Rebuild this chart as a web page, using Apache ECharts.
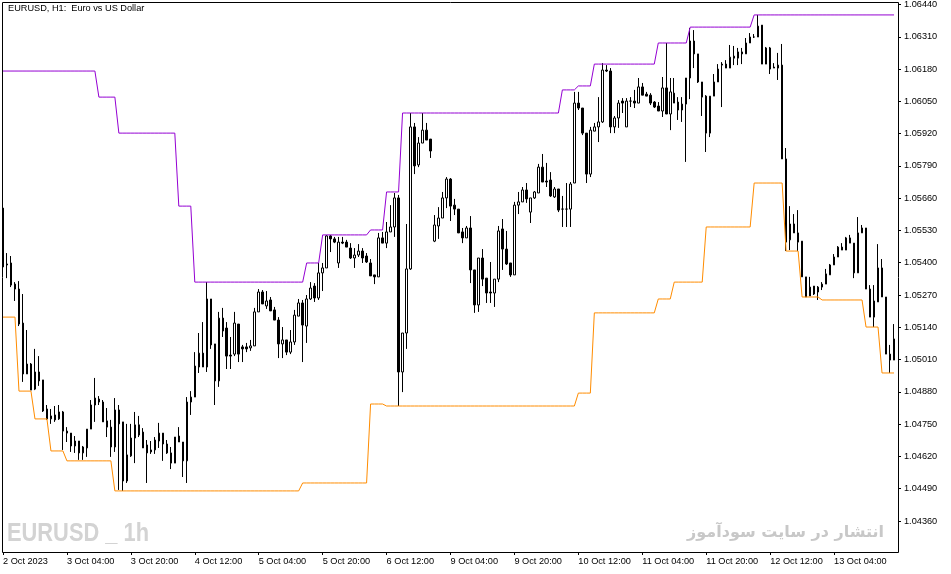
<!DOCTYPE html>
<html><head><meta charset="utf-8">
<script src="https://cdn.jsdelivr.net/npm/echarts@6/dist/echarts.min.js"></script>
<style>html,body{margin:0;padding:0;background:#fff}#c{width:951px;height:574px}</style>
</head><body><div id="c"></div>
<script>
// ---- data ----
const tradingDays = ['2 Oct','3 Oct','4 Oct','5 Oct','6 Oct','9 Oct','10 Oct','11 Oct','12 Oct','13 Oct'];
const firstHour = 12, lastHour = 19;
const xTickLabels = ['2 Oct 2023','3 Oct 04:00','3 Oct 20:00','4 Oct 12:00','5 Oct 04:00','5 Oct 20:00','6 Oct 12:00','9 Oct 04:00','9 Oct 20:00','10 Oct 12:00','11 Oct 04:00','11 Oct 20:00','12 Oct 12:00','13 Oct 04:00'];
const yTickValues = [1.04360,1.04490,1.04620,1.04750,1.04880,1.05010,1.05140,1.05270,1.05400,1.05530,1.05660,1.05790,1.05920,1.06050,1.06180,1.06310,1.06440];

const opens = [
1.05620,1.05395,1.05399,1.05314,1.05294,1.05157,1.04952,1.04992,1.04891,1.04960,
1.04928,1.04811,1.04771,1.04787,1.04771,1.04799,1.04722,1.04714,1.04662,1.04682,
1.04634,1.04654,1.04730,1.04827,1.04851,1.04839,1.04763,1.04738,1.04658,1.04807,
1.04759,1.04521,1.04622,1.04694,1.04747,1.04718,1.04666,1.04646,1.04646,1.04682,
1.04714,1.04670,1.04634,1.04593,1.04702,1.04678,1.04602,1.04839,1.04859,1.04980,
1.05036,1.04980,1.05254,1.05073,1.04924,1.05177,1.05137,1.05028,1.05032,1.05153,
1.05061,1.05061,1.05057,1.05065,1.05202,1.05282,1.05226,1.05250,1.05210,1.05169,
1.05073,1.05089,1.05040,1.05081,1.05185,1.05238,1.05145,1.05254,1.05306,1.05258,
1.05359,1.05379,1.05508,1.05496,1.05399,1.05483,1.05483,1.05459,1.05419,1.05431,
1.05447,1.05427,1.05399,1.05351,1.05343,1.05500,1.05479,1.05524,1.05544,1.05661,
1.04960,1.05117,1.05375,1.05947,1.05794,1.05882,1.05934,1.05898,1.05487,1.05548,
1.05580,1.05661,1.05737,1.05632,1.05616,1.05524,1.05500,1.05540,1.05371,1.05230,
1.05419,1.05338,1.05282,1.05278,1.05334,1.05536,1.05455,1.05399,1.05351,1.05632,
1.05645,1.05693,1.05604,1.05661,1.05681,1.05785,1.05729,1.05733,1.05665,1.05697,
1.05616,1.05616,1.05616,1.05721,1.06043,1.06023,1.05922,1.05757,1.05930,1.05947,
1.05967,1.06176,1.06172,1.05947,1.05983,1.06051,1.05947,1.06051,1.06051,1.06043,
1.06108,1.06079,1.06075,1.06047,1.06031,1.06011,1.06104,1.05999,1.06083,1.06047,
1.06015,1.06039,1.06144,1.06293,1.06241,1.06128,1.06071,1.05922,1.06071,1.06128,
1.06200,1.06200,1.06184,1.06232,1.06224,1.06249,1.06241,1.06285,1.06309,1.06309,
1.06357,1.06200,1.06265,1.06188,1.06184,1.06196,1.05818,1.05492,1.05556,1.05520,
1.05487,1.05343,1.05266,1.05306,1.05282,1.05302,1.05314,1.05351,1.05391,1.05423,
1.05463,1.05451,1.05500,1.05479,1.05359,1.05520,1.05540,1.05294,1.05181,1.05242,
1.05379,1.05262,1.05032,1.05008];

const highs = [
1.05624,1.05439,1.05427,1.05322,1.05326,1.05274,1.05129,1.04996,1.05053,1.05024,
1.04928,1.04827,1.04811,1.04823,1.04827,1.04803,1.04738,1.04714,1.04702,1.04682,
1.04662,1.04730,1.04847,1.04936,1.04863,1.04847,1.04815,1.04767,1.04855,1.04827,
1.04759,1.04751,1.04751,1.04799,1.04783,1.04734,1.04686,1.04682,1.04698,1.04755,
1.04714,1.04686,1.04658,1.04698,1.04738,1.04678,1.04859,1.04883,1.05040,1.05117,
1.05161,1.05322,1.05254,1.05073,1.05202,1.05218,1.05161,1.05101,1.05202,1.05153,
1.05069,1.05077,1.05089,1.05218,1.05294,1.05290,1.05286,1.05262,1.05222,1.05181,
1.05141,1.05089,1.05129,1.05210,1.05254,1.05250,1.05270,1.05322,1.05318,1.05399,
1.05399,1.05512,1.05512,1.05504,1.05504,1.05504,1.05492,1.05479,1.05459,1.05475,
1.05459,1.05439,1.05415,1.05351,1.05520,1.05524,1.05564,1.05632,1.05681,1.05673,
1.05117,1.05556,1.06003,1.05963,1.05906,1.06003,1.05963,1.05898,1.05592,1.05624,
1.05685,1.05745,1.05741,1.05657,1.05616,1.05540,1.05548,1.05588,1.05371,1.05419,
1.05455,1.05338,1.05403,1.05334,1.05548,1.05576,1.05528,1.05399,1.05645,1.05685,
1.05705,1.05721,1.05661,1.05689,1.05798,1.05838,1.05802,1.05765,1.05705,1.05697,
1.05669,1.05721,1.05725,1.06088,1.06088,1.06023,1.05922,1.05947,1.05963,1.06067,
1.06204,1.06196,1.06184,1.05991,1.06055,1.06063,1.06063,1.06067,1.06096,1.06144,
1.06124,1.06088,1.06083,1.06051,1.06047,1.06148,1.06285,1.06144,1.06144,1.06067,
1.06067,1.06144,1.06345,1.06337,1.06241,1.06128,1.06075,1.06071,1.06160,1.06200,
1.06208,1.06216,1.06277,1.06273,1.06265,1.06265,1.06305,1.06325,1.06321,1.06398,
1.06357,1.06269,1.06269,1.06204,1.06245,1.06281,1.05862,1.05628,1.05596,1.05612,
1.05487,1.05343,1.05343,1.05306,1.05306,1.05322,1.05375,1.05395,1.05435,1.05467,
1.05479,1.05504,1.05512,1.05479,1.05584,1.05552,1.05540,1.05310,1.05310,1.05475,
1.05415,1.05262,1.05069,1.05153];

const lows = [
1.05371,1.05338,1.05302,1.05246,1.05145,1.04920,1.04952,1.04887,1.04887,1.04904,
1.04799,1.04767,1.04751,1.04759,1.04767,1.04646,1.04678,1.04638,1.04634,1.04606,
1.04606,1.04618,1.04730,1.04759,1.04827,1.04759,1.04698,1.04618,1.04638,1.04485,
1.04481,1.04513,1.04618,1.04593,1.04698,1.04654,1.04513,1.04630,1.04630,1.04654,
1.04602,1.04630,1.04569,1.04593,1.04678,1.04537,1.04513,1.04787,1.04859,1.04956,
1.04980,1.04960,1.05053,1.04827,1.04900,1.05101,1.04972,1.04972,1.05024,1.05000,
1.05000,1.05040,1.05045,1.05065,1.05202,1.05234,1.05214,1.05206,1.05169,1.05016,
1.05016,1.05028,1.05032,1.05069,1.05185,1.05000,1.05077,1.05250,1.05242,1.05250,
1.05286,1.05379,1.05443,1.05479,1.05379,1.05475,1.05463,1.05415,1.05379,1.05423,
1.05399,1.05399,1.05347,1.05314,1.05343,1.05479,1.05459,1.05524,1.05504,1.04823,
1.04879,1.05053,1.05371,1.05757,1.05785,1.05882,1.05894,1.05822,1.05483,1.05496,
1.05580,1.05620,1.05568,1.05592,1.05520,1.05479,1.05500,1.05318,1.05198,1.05202,
1.05306,1.05238,1.05238,1.05222,1.05322,1.05371,1.05391,1.05343,1.05351,1.05596,
1.05645,1.05641,1.05560,1.05657,1.05681,1.05725,1.05705,1.05665,1.05661,1.05604,
1.05544,1.05544,1.05544,1.05721,1.06015,1.05914,1.05721,1.05745,1.05930,1.05886,
1.05963,1.06168,1.05922,1.05922,1.05943,1.06003,1.05947,1.06027,1.06023,1.06043,
1.06075,1.06071,1.06035,1.06023,1.06011,1.05987,1.05999,1.05934,1.06043,1.05975,
1.05967,1.05806,1.06059,1.06184,1.06124,1.05991,1.05846,1.05906,1.06071,1.06128,
1.06027,1.06184,1.06184,1.06196,1.06196,1.06200,1.06241,1.06285,1.06305,1.06309,
1.06200,1.06200,1.06160,1.06184,1.06136,1.05818,1.05447,1.05451,1.05520,1.05447,
1.05343,1.05262,1.05266,1.05270,1.05250,1.05290,1.05314,1.05351,1.05391,1.05423,
1.05451,1.05451,1.05479,1.05338,1.05359,1.05520,1.05294,1.05181,1.05141,1.05242,
1.05262,1.05032,1.04956,1.05008];

const closes = [
1.05383,1.05391,1.05310,1.05294,1.05153,1.04952,1.04992,1.04887,1.04960,1.04924,
1.04803,1.04771,1.04783,1.04767,1.04799,1.04722,1.04714,1.04662,1.04682,1.04634,
1.04658,1.04730,1.04827,1.04855,1.04839,1.04759,1.04738,1.04658,1.04807,1.04751,
1.04521,1.04626,1.04694,1.04747,1.04706,1.04654,1.04634,1.04638,1.04686,1.04714,
1.04670,1.04634,1.04593,1.04698,1.04678,1.04602,1.04839,1.04859,1.04984,1.05036,
1.04980,1.05254,1.05069,1.04924,1.05177,1.05125,1.05024,1.05024,1.05157,1.05032,
1.05053,1.05053,1.05065,1.05202,1.05282,1.05234,1.05246,1.05206,1.05169,1.05073,
1.05089,1.05040,1.05081,1.05189,1.05238,1.05149,1.05254,1.05298,1.05258,1.05359,
1.05379,1.05508,1.05496,1.05483,1.05483,1.05479,1.05463,1.05419,1.05431,1.05447,
1.05419,1.05403,1.05347,1.05343,1.05500,1.05479,1.05524,1.05544,1.05661,1.04960,
1.05117,1.05375,1.05947,1.05790,1.05882,1.05934,1.05894,1.05850,1.05552,1.05580,
1.05661,1.05737,1.05628,1.05616,1.05520,1.05500,1.05540,1.05371,1.05230,1.05419,
1.05334,1.05278,1.05278,1.05334,1.05528,1.05455,1.05395,1.05351,1.05632,1.05645,
1.05693,1.05657,1.05661,1.05685,1.05785,1.05725,1.05725,1.05669,1.05697,1.05612,
1.05616,1.05616,1.05717,1.06043,1.06023,1.05922,1.05757,1.05934,1.05947,1.05967,
1.06176,1.06172,1.05947,1.05983,1.06043,1.06043,1.06051,1.06051,1.06043,1.06108,
1.06075,1.06071,1.06043,1.06027,1.06011,1.06104,1.05999,1.06088,1.06043,1.06015,
1.06039,1.06144,1.06293,1.06241,1.06128,1.06067,1.05922,1.06071,1.06128,1.06180,
1.06196,1.06184,1.06228,1.06224,1.06249,1.06241,1.06285,1.06309,1.06309,1.06353,
1.06200,1.06265,1.06180,1.06184,1.06196,1.05818,1.05483,1.05556,1.05520,1.05483,
1.05343,1.05262,1.05302,1.05274,1.05302,1.05314,1.05355,1.05391,1.05423,1.05463,
1.05451,1.05500,1.05479,1.05359,1.05520,1.05540,1.05294,1.05181,1.05246,1.05379,
1.05262,1.05032,1.05008,1.05093];

// Donchian channel (upper / lower), one value per bar
const upperBand = [
1.06172,1.06172,1.06172,1.06172,1.06172,1.06172,1.06172,1.06172,1.06172,1.06172,1.06172,1.06172,
1.06172,1.06172,1.06172,1.06172,1.06172,1.06172,1.06172,1.06172,1.06172,1.06172,1.06172,1.06172,
1.06067,1.06067,1.06067,1.06067,1.06067,
1.05922,1.05922,1.05922,1.05922,1.05922,1.05922,1.05922,1.05922,1.05922,1.05922,1.05922,1.05922,1.05922,1.05922,1.05922,
1.05628,1.05628,1.05628,1.05628,
1.05322,1.05322,1.05322,1.05322,1.05322,1.05322,1.05322,1.05322,1.05322,1.05322,1.05322,1.05322,1.05322,1.05322,
1.05322,1.05322,1.05322,1.05322,1.05322,1.05322,1.05322,1.05322,1.05322,1.05322,1.05322,1.05322,1.05322,1.05322,
1.05399,1.05399,1.05399,1.05399,
1.05512,1.05512,1.05512,1.05512,1.05512,1.05512,1.05512,1.05512,1.05512,1.05512,1.05512,1.05512,
1.05532,1.05532,1.05532,1.05532,
1.05685,1.05685,1.05685,1.05685,
1.06003,1.06003,1.06003,1.06003,1.06003,1.06003,1.06003,1.06003,1.06003,1.06003,
1.06003,1.06003,1.06003,1.06003,1.06003,1.06003,1.06003,1.06003,1.06003,1.06003,
1.06003,1.06003,1.06003,1.06003,1.06003,1.06003,1.06003,1.06003,1.06003,1.06003,
1.06003,1.06003,1.06003,1.06003,1.06003,1.06003,1.06003,1.06003,1.06003,1.06003,
1.06096,1.06096,1.06096,1.06096,
1.06112,1.06112,1.06112,1.06112,
1.06200,1.06200,1.06200,1.06200,1.06200,1.06200,1.06200,1.06200,1.06200,1.06200,1.06200,1.06200,1.06200,1.06200,1.06200,1.06200,
1.06285,1.06285,1.06285,1.06285,1.06285,1.06285,1.06285,1.06285,
1.06349,1.06349,1.06349,1.06349,1.06349,1.06349,1.06349,1.06349,1.06349,1.06349,1.06349,1.06349,1.06349,1.06349,1.06349,1.06349,
1.06398,1.06398,1.06398,1.06398,1.06398,1.06398,1.06398,1.06398,1.06398,1.06398,1.06398,1.06398,
1.06398,1.06398,1.06398,1.06398,1.06398,1.06398,1.06398,1.06398,1.06398,1.06398,1.06398,1.06398,
1.06398,1.06398,1.06398,1.06398,1.06398,1.06398,1.06398,1.06398,1.06398,1.06398,1.06398,1.06398];

const lowerBand = [
1.05181,1.05181,1.05181,1.05181,
1.04883,1.04883,1.04883,1.04883,
1.04771,1.04771,1.04771,1.04771,
1.04642,1.04642,1.04642,1.04642,
1.04602,1.04602,1.04602,1.04602,1.04602,1.04602,1.04602,1.04602,1.04602,1.04602,1.04602,1.04602,
1.04481,1.04481,1.04481,1.04481,1.04481,1.04481,1.04481,1.04481,1.04481,1.04481,
1.04481,1.04481,1.04481,1.04481,1.04481,1.04481,1.04481,1.04481,1.04481,1.04481,
1.04481,1.04481,1.04481,1.04481,1.04481,1.04481,1.04481,1.04481,1.04481,1.04481,
1.04481,1.04481,1.04481,1.04481,1.04481,1.04481,1.04481,1.04481,1.04481,1.04481,
1.04481,1.04481,1.04481,1.04481,1.04481,1.04481,1.04481,
1.04513,1.04513,1.04513,1.04513,1.04513,1.04513,1.04513,1.04513,1.04513,1.04513,1.04513,1.04513,1.04513,1.04513,1.04513,1.04513,1.04513,
1.04831,1.04831,1.04831,1.04831,
1.04823,1.04823,1.04823,1.04823,1.04823,1.04823,1.04823,1.04823,1.04823,1.04823,1.04823,1.04823,
1.04823,1.04823,1.04823,1.04823,1.04823,1.04823,1.04823,1.04823,1.04823,1.04823,1.04823,1.04823,
1.04823,1.04823,1.04823,1.04823,1.04823,1.04823,1.04823,1.04823,1.04823,1.04823,1.04823,1.04823,
1.04823,1.04823,1.04823,1.04823,1.04823,1.04823,1.04823,1.04823,1.04823,1.04823,1.04823,1.04823,
1.04875,1.04875,1.04875,1.04875,
1.05198,1.05198,1.05198,1.05198,1.05198,1.05198,1.05198,1.05198,1.05198,1.05198,1.05198,1.05198,1.05198,1.05198,1.05198,1.05198,
1.05254,1.05254,1.05254,1.05254,
1.05322,1.05322,1.05322,1.05322,1.05322,1.05322,1.05322,1.05322,
1.05544,1.05544,1.05544,1.05544,1.05544,1.05544,1.05544,1.05544,1.05544,1.05544,1.05544,1.05544,
1.05721,1.05721,1.05721,1.05721,1.05721,1.05721,1.05721,1.05721,
1.05447,1.05447,1.05447,1.05447,
1.05262,1.05262,1.05262,1.05262,1.05262,
1.05250,1.05250,1.05250,1.05250,1.05250,1.05250,1.05250,1.05250,1.05250,1.05250,1.05250,
1.05141,1.05141,1.05141,1.05141,
1.04956,1.04956,1.04956,1.04956];

// ---- build ----
const categories = [];
tradingDays.forEach((d, k) => {
  const h0 = k === 0 ? firstHour : 0;
  const h1 = k === tradingDays.length - 1 ? lastHour : 23;
  for (let h = h0; h <= h1; h++) categories.push(d + ' ' + String(h).padStart(2, '0') + ':00');
});
const candles = opens.map((o, i) => [o, closes[i], lows[i], highs[i]]);

const FONT = '"Liberation Sans", Arial, sans-serif';
const chart = echarts.init(document.getElementById('c'), null, {renderer: 'canvas'});
const showTick = (i) => i % 16 === 0;
chart.setOption({
  animation: false,
  backgroundColor: '#ffffff',
  grid: {left: 0, top: 2, width: 896, height: 550},
  xAxis: {
    type: 'category', data: categories, boundaryGap: true,
    axisLine: {show: false}, splitLine: {show: false},
    axisTick: {show: true, alignWithLabel: true, length: 3, interval: showTick, lineStyle: {color: '#000'}},
    axisLabel: {interval: showTick, formatter: (v, i) => xTickLabels[i / 16] || '', align: 'left',
      margin: 5, color: '#000', fontSize: 9.2, fontFamily: FONT}
  },
  yAxis: {
    type: 'value', position: 'right', offset: 2, min: 1.04235, max: 1.06450,
    axisLine: {show: false}, splitLine: {show: false},
    axisTick: {show: true, length: 3, customValues: yTickValues, lineStyle: {color: '#000'}},
    axisLabel: {customValues: yTickValues, formatter: v => v.toFixed(5), margin: 6,
      color: '#000', fontSize: 9.2, fontFamily: FONT}
  },
  series: [
    {type: 'candlestick', data: candles, barWidth: 2,
     itemStyle: {color: '#ffffff', color0: '#000000', borderColor: '#000000', borderColor0: '#000000', borderWidth: 1},
     emphasis: {disabled: true}, silent: true},
    {type: 'line', data: upperBand, symbol: 'none', silent: true, lineStyle: {color: '#9400d3', width: 1}},
    {type: 'line', data: lowerBand, symbol: 'none', silent: true, lineStyle: {color: '#ff8c00', width: 1}}
  ],
  graphic: [
    {type: 'rect', silent: true, z: 100, shape: {x: 2.5, y: 2.5, width: 896, height: 550},
     style: {fill: 'none', stroke: '#000', lineWidth: 1}},
    {type: 'text', silent: true, z: 100, style: {text: 'EURUSD, H1:  Euro vs US Dollar', x: 8, y: 8,
     font: '9.2px "Liberation Sans", Arial, sans-serif', fill: '#000', verticalAlign: 'middle'}},
    {type: 'text', silent: true, z: 1, x: 7, y: 534, scaleX: 0.84,
     style: {text: 'EURUSD _ 1h', x: 0, y: 0,
     font: 'bold 26px "Liberation Sans", Arial, sans-serif', fill: '#d3d3d3', verticalAlign: 'middle'}},
    {type: 'text', silent: true, z: 1, style: {text: 'انتشار در سایت سودآموز', x: 884, y: 533, align: 'right',
     font: 'bold 16px "DejaVu Sans", sans-serif', fill: '#c8c8c8', verticalAlign: 'middle'}}
  ]
});
</script>
</body></html>
